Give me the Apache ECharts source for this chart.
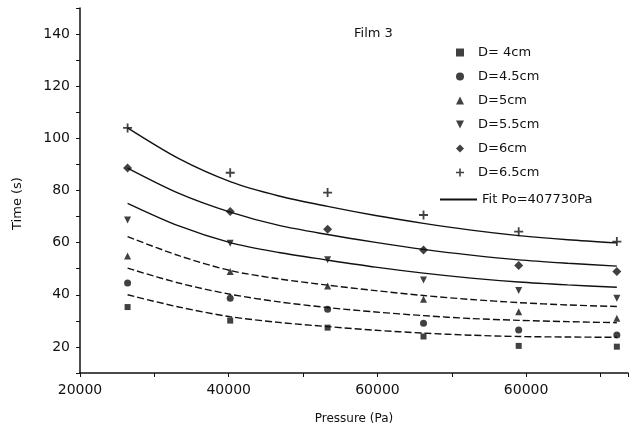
<!DOCTYPE html>
<html>
<head>
<meta charset="utf-8">
<script src="https://cdn.jsdelivr.net/npm/echarts@6/dist/echarts.min.js"></script>
<style>
html,body{margin:0;padding:0;background:#fff;}
#chart{width:631px;height:433px;}
</style>
</head>
<body>
<div id="chart"></div>
<script>
// 压力 (Pa)
var pressure=[26400,40200,53300,66200,79000,92200];
// 测量点
var t40=[35.3,30.1,27.4,24.0,20.4,20.1];
var t45=[44.5,38.7,34.5,29.1,26.5,24.6];
var t50=[54.9,48.9,43.4,38.3,33.5,31.0];
var t55=[68.7,59.8,53.4,45.7,41.6,38.7];
var t60=[88.6,71.9,65.1,57.2,51.2,48.9];
var t65=[104,86.8,79.2,70.6,64.2,60.4];
// 拟合曲线(从图上读的点, 比测量点密一些)
var fitPressure=[26400,33300,40200,46750,53300,59750,66200,72600,79000,85600,92200];
var fit40=[40.0,35.3,31.6,29.4,27.8,26.4,25.3,24.5,24.0,23.8,23.7];
var fit45=[50.2,44.5,40.2,37.3,35.1,33.4,32.0,30.9,30.2,29.7,29.3];
var fit50=[62.3,55.0,49.3,46.1,43.7,41.6,39.7,38.2,37.0,36.1,35.5];
var fit55=[75.1,66.4,60.0,56.2,53.3,50.6,48.3,46.4,44.9,43.8,42.9];
var fit60=[88.6,78.9,71.7,66.6,63.1,60.1,57.4,55.2,53.4,52.1,51.0];
var fit65=[104,92.2,83.4,77.9,73.9,70.4,67.4,64.8,62.7,61.1,59.9];
var names=['D= 4cm','D=4.5cm','D=5cm','D=5.5cm','D=6cm','D=6.5cm'];
var fitName='Fit Po=407730Pa';
// x轴刻度文字(按原图)
var xTickText={20000:'20000',40000:'40000',60000:'60000',80000:'60000'};

function pts(xs,ys){
	return xs.map(function(p,i){return [p,ys[i]];});
}
(function(){
	var myChart=echarts.init(document.getElementById('chart'));
	var ink='#111';
	var font='DejaVu Sans';
	var plus='path://M4,0H6V4H10V6H6V10H4V6H0V4H4Z';
	var down='path://M0,0H10L5,10Z';
	var marks=[
		{d:t40,s:'rect',z:6},
		{d:t45,s:'circle',z:7},
		{d:t50,s:'triangle',z:7},
		{d:t55,s:down,z:7},
		{d:t60,s:'diamond',z:9},
		{d:t65,s:plus,z:9}
	];
	var fits=[fit40,fit45,fit50,fit55,fit60,fit65];
	var series=[];
	fits.forEach(function(f,i){
		series.push({
			type:'line',
			name:fitName,
			data:pts(fitPressure,f),
			smooth:0.3,
			symbol:'none',
			silent:true,
			lineStyle:{color:ink,width:1.4,type:i<3?[7,3]:'solid'},
			itemStyle:{color:ink}
		});
	});
	marks.forEach(function(m,i){
		series.push({
			type:'scatter',
			name:names[i],
			data:pts(pressure,m.d),
			symbol:m.s,
			symbolSize:m.z,
			itemStyle:{color:ink}
		});
	});
	var option={
		animation:false,
		title:{
			text:'Film 3',
			left:349,
			top:22,
			textStyle:{fontFamily:font,fontSize:13,fontWeight:'normal',color:ink}
		},
		legend:[{
			orient:'vertical',
			left:451,
			top:41,
			itemWidth:8,
			itemHeight:8,
			itemGap:11,
			data:names,
			textStyle:{fontFamily:font,fontSize:13,color:ink,padding:[0,0,0,9]}
		},{
			orient:'vertical',
			left:435,
			top:188,
			itemWidth:37,
			itemHeight:2,
			icon:'rect',
			data:[fitName],
			textStyle:{fontFamily:font,fontSize:13,color:ink}
		}],
		grid:{left:80,right:1,top:8,bottom:60},
		xAxis:{
			type:'value',
			min:20000,
			max:93700,
			interval:10000,
			name:'Pressure (Pa)',
			nameLocation:'middle',
			nameGap:40,
			nameTextStyle:{fontFamily:font,fontSize:12,color:ink},
			splitLine:{show:false},
			axisLine:{lineStyle:{color:ink,width:1.5}},
			axisTick:{length:4,lineStyle:{color:ink}},
			axisLabel:{
				fontFamily:font,fontSize:14,color:ink,margin:10,
				formatter:function(v){return xTickText[v]||'';}
			}
		},
		yAxis:{
			type:'value',
			min:10,
			max:150,
			interval:10,
			name:'Time (s)',
			nameLocation:'middle',
			nameGap:56,
			nameTextStyle:{fontFamily:font,fontSize:13,color:ink,padding:[0,26,0,0]},
			splitLine:{show:false},
			axisLine:{lineStyle:{color:ink,width:1.5}},
			axisTick:{length:4,lineStyle:{color:ink}},
			axisLabel:{
				fontFamily:font,fontSize:14,color:ink,margin:10,
				formatter:function(v){return (v%20===0&&v>=20&&v<=140)?String(v):'';}
			}
		},
		series:series
	};
	myChart.setOption(option);
})();
</script>
</body>
</html>
